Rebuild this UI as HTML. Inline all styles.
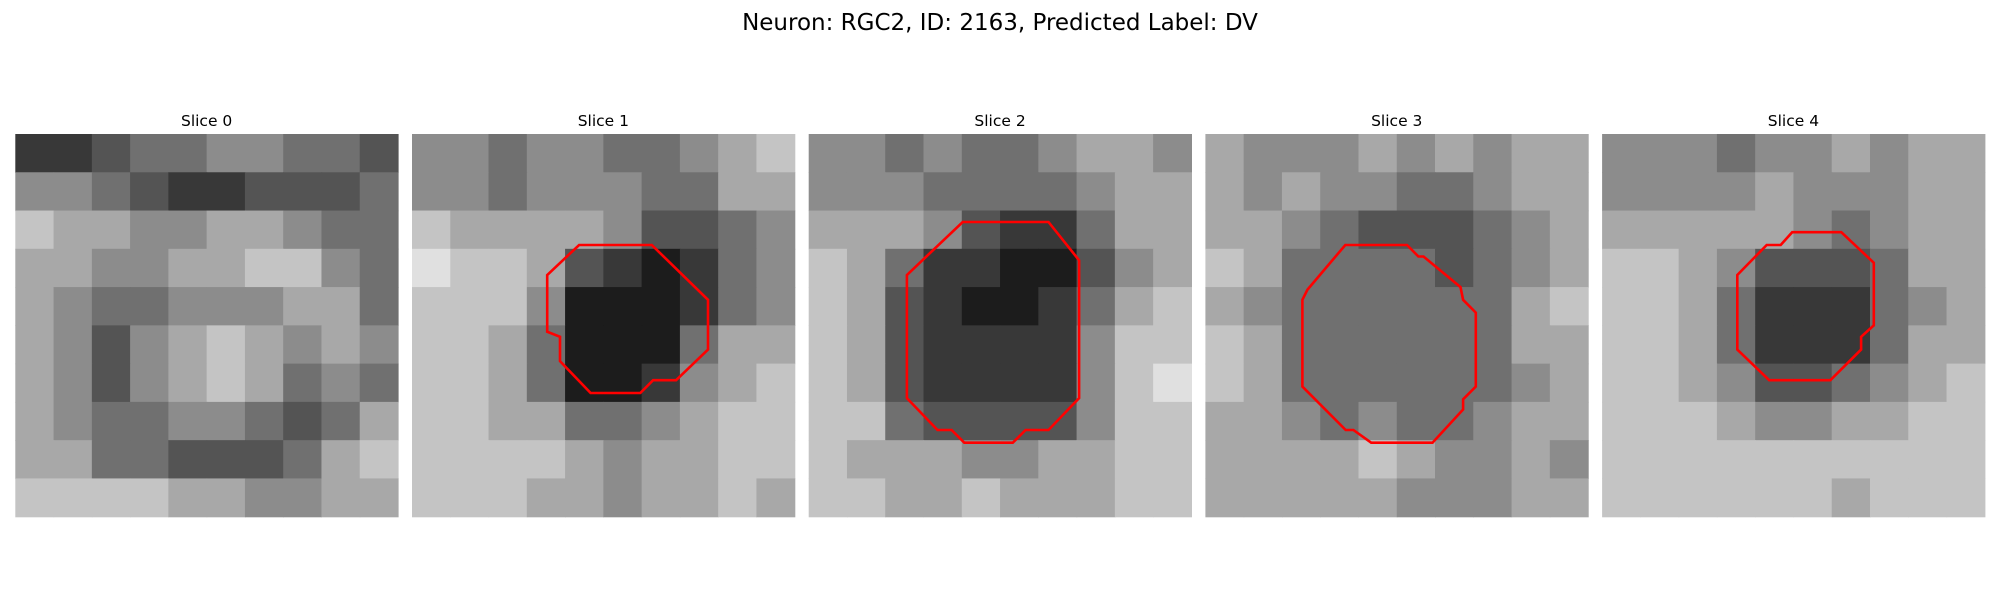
<!DOCTYPE html>
<html><head><meta charset="utf-8"><style>
html,body{margin:0;padding:0;background:#fff;}
body{width:2000px;height:600px;overflow:hidden;font-family:"Liberation Sans","DejaVu Sans",sans-serif;}
</style></head><body>
<svg id="fig" width="2000" height="600" viewBox="0 0 2000 600" xmlns="http://www.w3.org/2000/svg">
<text x="1000" y="30" text-anchor="middle" font-size="23" font-family="DejaVu Sans, Liberation Sans, sans-serif">Neuron: RGC2, ID: 2163, Predicted Label: DV</text>
</svg>
<script>
// coarse brightness levels (0 dark .. 9 bright), 10x10 blocks per slice (each block = 3x3 image pixels)
const slice0 = [
[2,2,3,4,4,5,5,4,4,3],[5,5,4,3,2,2,3,3,3,4],[7,6,6,5,5,6,6,5,4,4],[6,6,5,5,6,6,7,7,5,4],[6,5,4,4,5,5,5,6,6,4],
[6,5,3,5,6,7,6,5,6,5],[6,5,3,5,6,7,6,4,5,4],[6,5,4,4,5,5,4,3,4,6],[6,6,4,4,3,3,3,4,6,7],[7,7,7,7,6,6,5,5,6,6]];
const slice1 = [
[5,5,4,5,5,4,4,5,6,7],[5,5,4,5,5,5,4,4,6,6],[7,6,6,6,6,5,3,3,4,5],[8,7,7,6,3,2,1,2,4,5],[7,7,7,5,1,1,1,2,4,5],
[7,7,6,4,1,1,1,4,6,6],[7,7,6,4,1,1,2,5,6,7],[7,7,6,6,4,4,5,6,7,7],[7,7,7,7,6,5,6,6,7,7],[7,7,7,6,6,5,6,6,7,6]];
const slice2 = [
[5,5,4,5,4,4,5,6,6,5],[5,5,5,4,4,4,4,5,6,6],[6,6,6,5,3,2,2,4,6,6],[7,6,4,2,2,1,1,3,5,6],[7,6,3,2,1,1,2,4,6,7],
[7,6,3,2,2,2,2,5,7,7],[7,6,3,2,2,2,2,5,7,8],[7,7,4,3,3,3,3,5,7,7],[7,6,6,6,5,5,6,6,7,7],[7,7,6,6,7,6,6,6,7,7]];
const slice3 = [
[6,5,5,5,6,5,6,5,6,6],[6,5,6,5,5,4,4,5,6,6],[6,6,5,4,3,3,3,4,5,6],[7,6,4,4,4,4,3,4,5,6],[6,5,4,4,4,4,4,4,6,7],
[7,6,4,4,4,4,4,4,6,6],[7,6,4,4,4,4,4,4,5,6],[6,6,5,4,5,4,4,5,6,6],[6,6,6,6,7,6,5,5,6,5],[6,6,6,6,6,5,5,5,6,6]];
const slice4 = [
[5,5,5,4,5,5,6,5,6,6],[5,5,5,5,6,5,5,5,6,6],[6,6,6,6,6,5,4,5,6,6],[7,7,6,5,3,3,3,4,6,6],[7,7,6,4,2,2,2,4,5,6],
[7,7,6,4,2,2,2,4,6,6],[7,7,6,5,3,3,4,5,6,7],[7,7,7,6,5,5,6,6,7,7],[7,7,7,7,7,7,7,7,7,7],[7,7,7,7,7,7,6,7,7,7]];
// contours in image-pixel coordinates (0..30)
const contour1 = [[13.1,8.7],[18.8,8.7],[23.2,13.0],[23.2,16.9],[20.7,19.3],[18.9,19.3],[17.9,20.3],[14.0,20.3],[11.6,17.8],[11.6,15.9],[10.6,15.5],[10.6,11.05]];
const contour2 = [[12.07,6.9],[18.8,6.9],[21.2,9.9],[21.2,20.7],[18.8,23.2],[17.0,23.2],[16.0,24.2],[12.2,24.2],[11.2,23.2],[10.1,23.2],[7.7,20.7],[7.7,11.05]];
const contour3 = [[10.97,8.7],[15.8,8.7],[16.7,9.6],[17.1,9.6],[20.0,12.0],[20.2,13.0],[21.2,14.0],[21.2,19.8],[20.2,20.8],[20.2,21.6],[17.8,24.2],[13.0,24.2],[11.6,23.2],[11.0,23.2],[7.6,19.8],[7.6,13.0],[8.0,12.2]];
const contour4 = [[14.9,7.7],[18.75,7.7],[21.3,10.1],[21.3,15.0],[20.3,15.9],[20.3,16.9],[17.9,19.3],[13.1,19.3],[10.6,16.9],[10.6,11.05],[12.9,8.7],[14.0,8.7]];
const sliceTitles = ["Slice 0","Slice 1","Slice 2","Slice 3","Slice 4"];

const slices = [slice0,slice1,slice2,slice3,slice4];
const contours = [null,contour1,contour2,contour3,contour4];
const NS = "http://www.w3.org/2000/svg";
const fig = document.getElementById('fig');
const X0 = 15.3, PITCH = 396.7, W = 382.7, Y0 = 134, GRID = 30;
function gray(v){ const g = Math.round(Math.min(255, v*28)); return `rgb(${g},${g},${g})`; }
slices.forEach((s, i) => {
  const px = X0 + i*PITCH;
  const g = document.createElementNS(NS,'g');
  
  
  fig.appendChild(g);
  const t = document.createElementNS(NS,'text');
  
  
  t.setAttribute('x', px + W/2); t.setAttribute('y', 126);
  t.setAttribute('text-anchor','middle'); t.setAttribute('font-size','15.5');
  t.setAttribute('font-family','DejaVu Sans, Liberation Sans, sans-serif');
  t.textContent = sliceTitles[i];
  g.appendChild(t);
  const rows = s.length, cols = s[0].length;
  const cw = W/cols, ch = W/rows;
  s.forEach((row, r) => row.forEach((v, c) => {
    const rc = document.createElementNS(NS,'rect');
    
    
    rc.setAttribute('x', (px + c*cw).toFixed(2));
    rc.setAttribute('y', (Y0 + r*ch).toFixed(2));
    rc.setAttribute('width', (cw+0.6).toFixed(2));
    rc.setAttribute('height', (ch+0.6).toFixed(2));
    rc.setAttribute('fill', gray(v));
    g.appendChild(rc);
  }));
  const ct = contours[i];
  if (ct) {
    const sc = W/GRID;
    const pl = document.createElementNS(NS,'polygon');
    
    
    pl.setAttribute('points', ct.map(p => (px + p[0]*sc).toFixed(1) + ',' + (Y0 + p[1]*sc).toFixed(1)).join(' '));
    pl.setAttribute('fill','none'); pl.setAttribute('stroke','#ff0000'); pl.setAttribute('stroke-width','2.6');
    g.appendChild(pl);
  }
});
</script>
</body></html>
